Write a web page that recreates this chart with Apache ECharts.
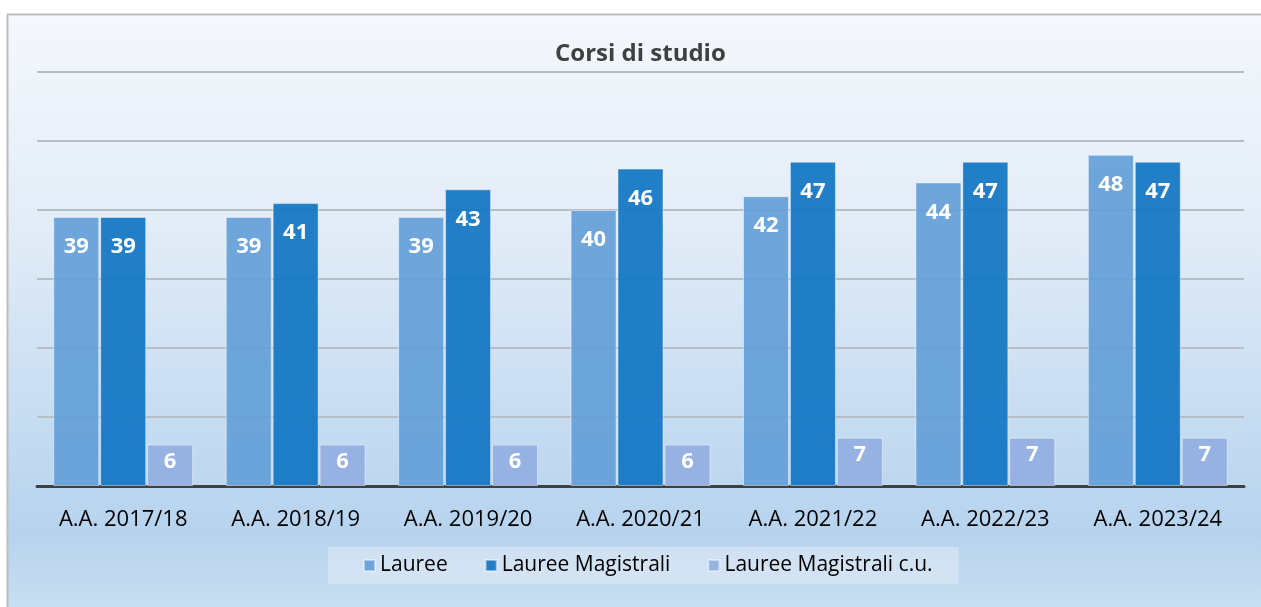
<!DOCTYPE html>
<html><head><meta charset="utf-8">
<script src="https://cdn.jsdelivr.net/npm/echarts@6/dist/echarts.min.js"></script>
<style>html,body{margin:0;padding:0;background:#fff;}#c{width:1261px;height:607px;}</style>
</head><body><div id="c"></div>
<script>
const categories = ['A.A. 2017/18','A.A. 2018/19','A.A. 2019/20','A.A. 2020/21','A.A. 2021/22','A.A. 2022/23','A.A. 2023/24'];
const lauree = [39,39,39,40,42,44,48];
const laureeMagistrali = [39,41,43,46,47,47,47];
const laureeMagistraliCU = [6,6,6,6,7,7,7];
const seriesNames = ['Lauree','Lauree Magistrali','Lauree Magistrali c.u.'];
const colors = ['rgba(100,160,216,0.92)','rgba(22,120,196,0.95)','rgba(146,176,224,0.95)'];
const FONT = '"Open Sans", "Noto Sans", sans-serif';

const chart = echarts.init(document.getElementById('c'));
const mk = (name, data, color, dist) => ({
  name, type:'bar', data, barWidth:46, barGap:'2%',
  itemStyle:{color, borderColor:'rgba(255,255,255,0.45)', borderWidth:1},
  label:{show:true, position:'insideTop', distance:dist, color:'#fff', fontWeight:'bold', fontSize:22, fontFamily:FONT}
});
chart.setOption({
  animation:false,
  graphic:[{type:'rect', z:-10, shape:{x:7.5,y:14.5,width:1270,height:610},
    style:{stroke:'#bdbdbd', lineWidth:2,
      fill:{type:'linear',x:0,y:0,x2:0,y2:1,colorStops:[
        {offset:0,color:'#f5f8fd'},{offset:0.35,color:'#e2ecf7'},{offset:0.85,color:'#b6d3ee'},{offset:1,color:'#cde1f2'}]}}}],
  title:{text:'Corsi di studio', left:550, top:37,
    textStyle:{fontFamily:FONT, fontSize:24, fontWeight:'bold', color:'#404040'}},
  legend:{data:seriesNames, bottom:23, left:328, itemWidth:11, itemHeight:11, itemGap:37, icon:'rect',
    backgroundColor:'rgba(225,235,245,0.55)', padding:[8,26,8,35],
    textStyle:{fontFamily:FONT, fontSize:21, color:'#000'}},
  grid:{left:37, right:17, top:72, bottom:121, containLabel:false},
  xAxis:{type:'category', data:categories,
    axisLine:{lineStyle:{color:'#404040', width:3}}, axisTick:{show:false},
    axisLabel:{fontFamily:FONT, fontSize:22, color:'#000', margin:23}},
  yAxis:{type:'value', min:0, max:60, interval:10, axisLabel:{show:false},
    axisLine:{show:false}, axisTick:{show:false},
    splitLine:{lineStyle:{color:'#b6bec8', width:2}}},
  series:[mk(seriesNames[0],lauree,colors[0],19), mk(seriesNames[1],laureeMagistrali,colors[1],19), mk(seriesNames[2],laureeMagistraliCU,colors[2],6)]
});
</script></body></html>
